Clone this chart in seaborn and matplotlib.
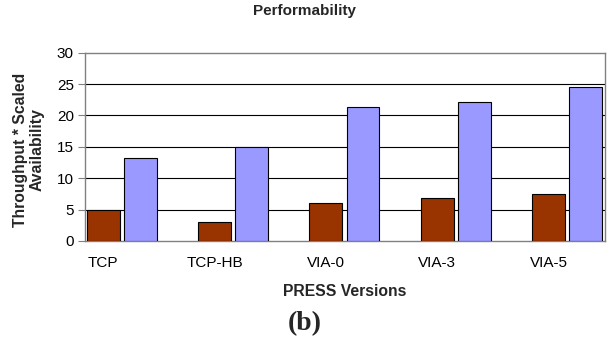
import matplotlib
matplotlib.use("Agg")
import matplotlib.pyplot as plt
import seaborn as sns
import pandas as pd

categories = ["TCP", "TCP-HB", "VIA-0", "VIA-3", "VIA-5"]
series_a = [4.9, 3.1, 6.0, 6.8, 7.5]
series_b = [13.3, 15.0, 21.4, 22.1, 24.5]
yticks = [0, 5, 10, 15, 20, 25, 30]

df = pd.DataFrame({
    "version": categories * 2,
    "value": series_a + series_b,
    "series": ["A"] * len(categories) + ["B"] * len(categories),
})

sns.set_theme(style="white")
plt.rcParams["font.family"] = ["Liberation Sans", "DejaVu Sans"]

fig = plt.figure(figsize=(6.13, 3.5), dpi=100)
ax = fig.add_axes([85 / 613, 1 - 241 / 350, 520 / 613, (241 - 52.7) / 350])

sns.barplot(data=df, x="version", y="value", hue="series", order=categories,
            palette={"A": "#993300", "B": "#9999FF"}, width=0.666, gap=0.111,
            edgecolor="black", linewidth=0.8, saturation=1, legend=False, ax=ax,
            zorder=3)

ax.set_ylim(0, 30)
ax.set_yticks(yticks)
ax.set_yticklabels([str(t) for t in yticks], fontsize=11, color="black")
ax.set_xlim(-0.33, 4.34)
ax.set_xticks([i - 0.1665 for i in range(len(categories))])
ax.set_xticklabels(categories, fontsize=11, color="black")
ax.tick_params(axis="x", length=0, pad=11)
ax.tick_params(axis="y", length=5, width=0.8, color="#808080", pad=3, left=True, direction="out")
ax.set_xlabel("")
ax.set_ylabel("")

for y in yticks[1:-1]:
    ax.axhline(y, color="black", linewidth=0.8, zorder=1)
for s in ax.spines.values():
    s.set_visible(True)
    s.set_color("#808080")
    s.set_linewidth(1.0)

fig.text(305 / 613, 1 - 11 / 350, "Performability", ha="center", va="center",
         fontsize=11, fontweight="bold")
fig.text(29 / 613, 1 - 150 / 350, "Throughput * Scaled\nAvailability", ha="center",
         va="center", rotation=90, fontsize=11.3, fontweight="bold", linespacing=1.15)
fig.text(345 / 613, 1 - 291 / 350, "PRESS Versions", ha="center", va="center",
         fontsize=11.3, fontweight="bold")
fig.text(305 / 613, 1 - 324 / 350, "(b)", ha="center", va="center",
         fontsize=20, fontweight="bold", family=["Liberation Serif", "DejaVu Serif"])

fig.savefig("out.png", dpi=100)
